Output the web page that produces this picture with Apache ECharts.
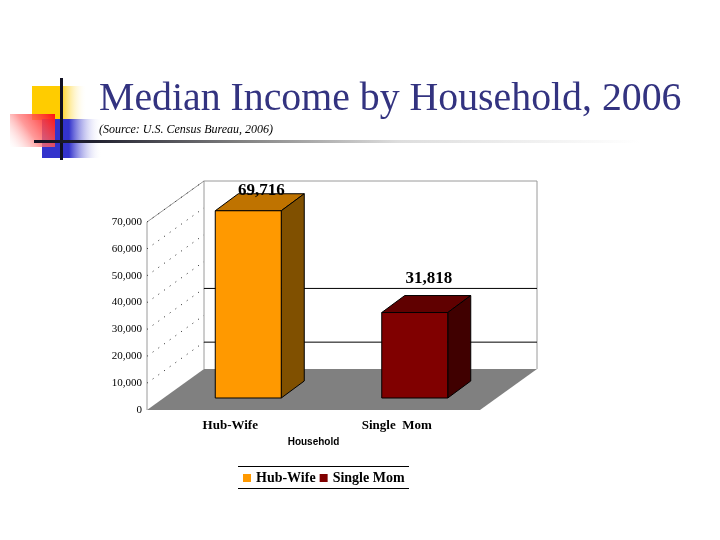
<!DOCTYPE html>
<html><head><meta charset="utf-8">
<style>html,body{margin:0;padding:0;background:#fff}#c{width:720px;height:540px}</style>
<script src="https://cdn.jsdelivr.net/npm/echarts@6/dist/echarts.min.js"></script>
</head><body><div id="c"></div>
<script>
const categories = ['Hub-Wife', 'Single  Mom'];
const seriesNames = ['Hub-Wife', 'Single Mom'];
const hubWife = [[0, 69716]];
const singleMom = [[1, 31818]];
const valueLabels = ['69,716', '31,818'];
const dottedValues = [0, 10000, 20000, 30000, 40000, 50000, 60000, 70000];
const solidValues = [10000, 30000];
const frontColors = ['#ff9900', '#800000'];
const topColors = ['#bf7300', '#600000'];
const sideColors = ['#805000', '#400000'];

const DX = 57, DY = -41;            // wall depth in pixels
const BDX = 23, BDY = -17;          // bar depth
const BX = 18, BY = -12;            // bar inset from the front of the floor
const BW = 66;

const chart = echarts.init(document.getElementById('c'), null, {renderer: 'canvas'});

function poly(points, fill, stroke) {
  return {type: 'polygon', shape: {points}, style: {fill, stroke: stroke || '#000', lineWidth: 1}};
}
function bar(idx) {
  return function (params, api) {
    const p = api.coord([api.value(0), api.value(1)]);
    const z = api.coord([api.value(0), 0]);
    const l = p[0] + BX - BW / 2, r = l + BW;
    const t = p[1] + BY, b = z[1] + BY;
    return {type: 'group', children: [
      poly([[l, t], [l + BDX, t + BDY], [r + BDX, t + BDY], [r, t]], topColors[idx]),
      poly([[r, t], [r + BDX, t + BDY], [r + BDX, b + BDY], [r, b]], sideColors[idx]),
      poly([[l, t], [r, t], [r, b], [l, b]], frontColors[idx]),
      {type: 'text', x: l + BW / 2 + (idx === 0 ? 13 : 14), y: t + BDY + (idx === 0 ? 5 : -8),
       style: {text: valueLabels[idx], fill: '#000', font: 'bold 17px "Liberation Serif"', align: 'center', verticalAlign: 'bottom'}, z2: 20}
    ]};
  };
}
function backdrop(params, api) {
  const y0 = api.coord([0, 0]);
  const y70 = api.coord([0, 70000]);
  const s = params.coordSys;
  const lx = s.x, rx = s.x + s.width;
  const kids = [];
  // floor
  kids.push({type: 'polygon', shape: {points: [[lx, y0[1]], [lx + DX, y0[1] + DY], [rx + DX, y0[1] + DY], [rx, y0[1]]]}, style: {fill: '#808080'}});
  // walls
  kids.push({type: 'polyline', shape: {points: [[lx, y0[1]], [lx, y70[1]], [lx + DX, y70[1] + DY], [rx + DX, y70[1] + DY], [rx + DX, y0[1] + DY]]}, style: {stroke: '#9a9a9a', fill: 'none', lineWidth: 1}});
  kids.push({type: 'line', shape: {x1: lx + DX, y1: y70[1] + DY, x2: lx + DX, y2: y0[1] + DY}, style: {stroke: '#9a9a9a', lineWidth: 1}});
  dottedValues.forEach(v => {
    const y = api.coord([0, v])[1];
    if (v > 0) kids.push({type: 'line', shape: {x1: lx, y1: y, x2: lx + DX, y2: y + DY}, style: {stroke: '#222', lineWidth: 1, lineDash: [1, 6]}});
  });
  solidValues.forEach(v => {
    const y = api.coord([0, v])[1] + DY;
    kids.push({type: 'line', shape: {x1: lx + DX, y1: y, x2: rx + DX, y2: y}, style: {stroke: '#000', lineWidth: 1}});
  });
  return {type: 'group', children: kids};
}

function fadeX(c, solidTo) {
  return {type: 'linear', x: 0, y: 0, x2: 1, y2: 0, colorStops: [
    {offset: 0, color: c}, {offset: solidTo, color: c}, {offset: 1, color: 'rgba(255,255,255,0)'}]};
}

chart.setOption({
  animation: false,
  backgroundColor: '#fff',
  title: [
    {text: 'Median Income by Household, 2006', left: 94, top: 75,
     textStyle: {fontFamily: 'Liberation Serif', fontSize: 39.8, fontWeight: 'normal', color: '#333380'}},
    {text: '(Source: U.S. Census Bureau, 2006)', left: 94, top: 119,
     textStyle: {fontFamily: 'Liberation Serif', fontSize: 12, fontStyle: 'italic', fontWeight: 'normal', color: '#000'}}
  ],
  grid: {left: 147, top: 222, width: 333, height: 188, containLabel: false},
  xAxis: {type: 'category', data: categories, name: 'Household', nameLocation: 'middle', nameGap: 27,
    nameTextStyle: {fontFamily: 'Liberation Sans', fontWeight: 'bold', fontSize: 10, color: '#000'},
    axisLine: {show: false}, axisTick: {show: false},
    axisLabel: {margin: 9, fontFamily: 'Liberation Serif', fontWeight: 'bold', fontSize: 13, color: '#000'}},
  yAxis: {type: 'value', min: 0, max: 70000, interval: 10000,
    splitLine: {show: false}, axisLine: {show: false}, axisTick: {show: false},
    axisLabel: {margin: 5, padding: [2, 0, 0, 0], fontFamily: 'Liberation Serif', fontSize: 11, color: '#000',
      formatter: v => v.toLocaleString('en-US')}},
  legend: {left: 238, top: 466, itemWidth: 8, itemHeight: 8, itemGap: 4, icon: 'rect',
    data: seriesNames,
    textStyle: {fontFamily: 'Liberation Serif', fontWeight: 'bold', fontSize: 14, color: '#000'}},
  series: [
    {type: 'custom', name: 'backdrop', coordinateSystem: 'cartesian2d', data: [[0, 0]], renderItem: backdrop, z: 1, silent: true},
    {type: 'custom', name: seriesNames[0], coordinateSystem: 'cartesian2d', data: hubWife, renderItem: bar(0), z: 3, itemStyle: {color: frontColors[0]}},
    {type: 'custom', name: seriesNames[1], coordinateSystem: 'cartesian2d', data: singleMom, renderItem: bar(1), z: 3, itemStyle: {color: frontColors[1]}}
  ],
  graphic: [
    {type: 'rect', z: 0, shape: {x: 32, y: 86, width: 55, height: 34}, style: {fill: fadeX('#ffcc00', 0.5)}},
    {type: 'rect', z: 0, shape: {x: 42, y: 119, width: 60, height: 39}, style: {fill: fadeX('#3333cc', 0.45)}},
    {type: 'rect', z: 0, shape: {x: 10, y: 114, width: 45, height: 33},
      style: {fill: {type: 'linear', x: 1, y: 0, x2: 0, y2: 1, colorStops: [
        {offset: 0, color: '#ff1010'}, {offset: 0.55, color: 'rgba(255,120,120,0.75)'}, {offset: 1, color: 'rgba(255,255,255,0.2)'}]}}},
    {type: 'rect', z: 0, shape: {x: 60, y: 78, width: 3, height: 82}, style: {fill: '#111122'}},
    {type: 'rect', z: 0, shape: {x: 34, y: 140, width: 606, height: 3},
      style: {fill: {type: 'linear', x: 0, y: 0, x2: 1, y2: 0, colorStops: [
        {offset: 0, color: '#111122'}, {offset: 0.1, color: '#222230'}, {offset: 0.34, color: '#808080'}, {offset: 0.6, color: '#dddddd'}, {offset: 1, color: '#ffffff'}]}}},
    {type: 'line', shape: {x1: 238, y1: 466.5, x2: 409, y2: 466.5}, style: {stroke: '#000', lineWidth: 1}},
    {type: 'line', shape: {x1: 238, y1: 488.5, x2: 409, y2: 488.5}, style: {stroke: '#000', lineWidth: 1}}
  ]
});
</script></body></html>
